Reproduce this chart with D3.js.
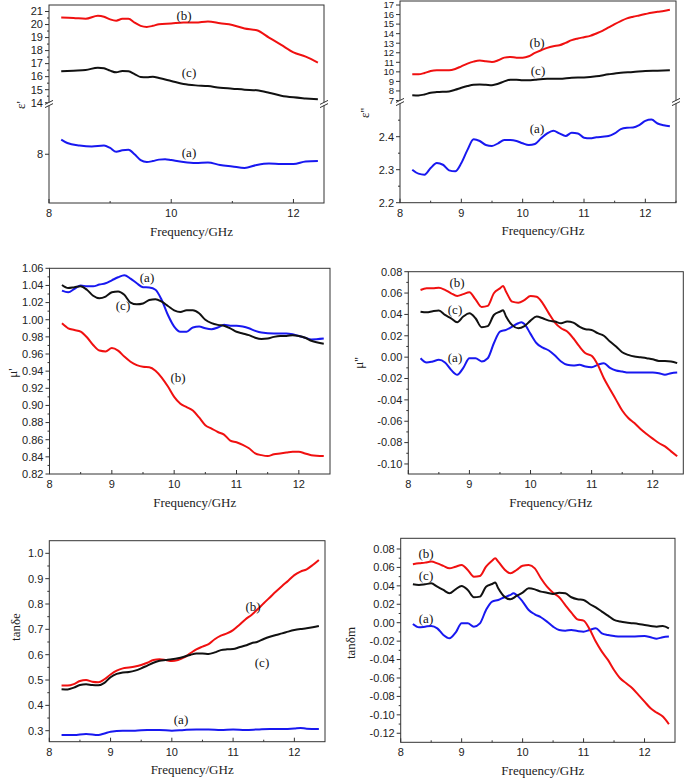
<!DOCTYPE html>
<html lang="en">
<head>
<meta charset="UTF-8">
<title>Permittivity, permeability and loss tangents vs frequency</title>
<script src="https://d3js.org/d3.v7.min.js"></script>
<style>
  body { margin: 0; background: #fff; }
  svg { display: block; }
  .tick-label { font-family: "Liberation Sans", Arial, sans-serif; font-size: 11px; fill: #222; }
  .axis-title { font-family: "Liberation Serif", "Times New Roman", serif; font-size: 13px; fill: #222; }
  .note { font-family: "Liberation Serif", "Times New Roman", serif; font-size: 13px; fill: #111; }
</style>
</head>
<body>
<svg id="chart" width="685" height="779"></svg>
<script>
// ---- data: [frequency GHz, value] ----
const epsReal_a = [[8.2,8.30],[8.3,8.23],[8.5,8.18],[8.7,8.16],[8.9,8.18],[9.0,8.13],[9.1,8.05],[9.2,8.08],[9.3,8.09],[9.4,8.0],[9.5,7.88],[9.6,7.84],[9.7,7.86],[9.8,7.89],[9.9,7.90],[10.0,7.88],[10.2,7.84],[10.4,7.82],[10.6,7.83],[10.8,7.78],[11.0,7.75],[11.2,7.72],[11.4,7.78],[11.6,7.81],[11.8,7.80],[12.0,7.80],[12.2,7.85],[12.4,7.86]];
const epsReal_b = [[8.2,20.54],[8.4,20.51],[8.6,20.44],[8.8,20.67],[8.9,20.6],[9.0,20.4],[9.1,20.3],[9.2,20.44],[9.3,20.44],[9.4,20.15],[9.5,19.9],[9.6,19.82],[9.7,19.9],[9.8,20.03],[10.0,20.08],[10.2,20.15],[10.4,20.15],[10.6,20.23],[10.8,20.1],[11.0,19.97],[11.2,19.7],[11.4,19.56],[11.6,19.0],[11.8,18.44],[12.0,17.87],[12.2,17.54],[12.4,17.08]];
const epsReal_c = [[8.2,16.41],[8.4,16.46],[8.6,16.51],[8.8,16.69],[8.9,16.64],[9.0,16.46],[9.1,16.33],[9.2,16.44],[9.3,16.41],[9.4,16.2],[9.5,15.97],[9.6,15.95],[9.7,16.0],[9.8,15.9],[10.0,15.67],[10.2,15.44],[10.4,15.33],[10.6,15.28],[10.8,15.15],[11.0,15.08],[11.2,15.0],[11.4,14.95],[11.6,14.77],[11.8,14.54],[12.0,14.41],[12.2,14.33],[12.4,14.26]];

const epsImag_a = [[8.2,2.30],[8.3,2.288],[8.4,2.285],[8.5,2.305],[8.6,2.32],[8.7,2.315],[8.8,2.298],[8.9,2.295],[9.0,2.32],[9.1,2.36],[9.2,2.392],[9.3,2.387],[9.4,2.375],[9.5,2.372],[9.6,2.38],[9.7,2.39],[9.8,2.39],[9.9,2.387],[10.0,2.38],[10.1,2.375],[10.2,2.378],[10.3,2.395],[10.4,2.41],[10.5,2.418],[10.6,2.41],[10.7,2.402],[10.8,2.412],[10.9,2.41],[11.0,2.397],[11.1,2.395],[11.2,2.398],[11.3,2.40],[11.4,2.402],[11.5,2.41],[11.6,2.423],[11.7,2.427],[11.8,2.428],[11.9,2.435],[12.0,2.448],[12.1,2.452],[12.2,2.44],[12.3,2.435],[12.4,2.432]];
const epsImag_b = [[8.2,9.74],[8.3,9.74],[8.4,9.88],[8.5,10.09],[8.6,10.16],[8.8,10.16],[8.9,10.3],[9.0,10.58],[9.1,10.86],[9.2,11.07],[9.3,11.18],[9.4,11.11],[9.5,11.04],[9.6,11.21],[9.7,11.49],[9.8,11.56],[9.9,11.49],[10.0,11.49],[10.1,11.63],[10.2,11.98],[10.3,12.26],[10.4,12.51],[10.5,12.68],[10.6,12.79],[10.7,13.04],[10.8,13.32],[10.9,13.49],[11.0,13.63],[11.1,13.77],[11.2,14.02],[11.3,14.3],[11.4,14.65],[11.5,15.0],[11.6,15.32],[11.7,15.6],[11.8,15.77],[11.9,15.91],[12.0,16.05],[12.1,16.19],[12.2,16.3],[12.3,16.37],[12.4,16.51]];
const epsImag_c = [[8.2,7.56],[8.3,7.53],[8.4,7.63],[8.5,7.81],[8.6,7.88],[8.8,7.95],[8.9,8.12],[9.0,8.33],[9.1,8.51],[9.2,8.65],[9.3,8.68],[9.4,8.65],[9.5,8.61],[9.6,8.75],[9.7,9.0],[9.8,9.18],[9.9,9.18],[10.0,9.11],[10.1,9.11],[10.2,9.18],[10.4,9.28],[10.6,9.28],[10.8,9.39],[11.0,9.42],[11.2,9.53],[11.4,9.74],[11.6,9.91],[11.8,9.98],[12.0,10.09],[12.2,10.12],[12.4,10.16]];

const muReal_a = [[8.2,1.034],[8.3,1.032],[8.4,1.036],[8.5,1.040],[8.6,1.039],[8.7,1.039],[8.8,1.041],[8.9,1.0425],[9.0,1.046],[9.1,1.0495],[9.2,1.052],[9.3,1.048],[9.4,1.0425],[9.5,1.038],[9.6,1.0375],[9.7,1.035],[9.8,1.023],[9.9,1.0055],[10.0,0.992],[10.1,0.986],[10.2,0.986],[10.3,0.991],[10.4,0.992],[10.5,0.990],[10.6,0.989],[10.7,0.991],[10.8,0.994],[10.9,0.993],[11.0,0.993],[11.1,0.992],[11.2,0.990],[11.3,0.987],[11.4,0.985],[11.6,0.984],[11.8,0.984],[11.9,0.983],[12.0,0.981],[12.1,0.979],[12.2,0.977],[12.4,0.978]];
const muReal_b = [[8.2,0.9958],[8.3,0.990],[8.4,0.988],[8.5,0.986],[8.6,0.9795],[8.7,0.9705],[8.8,0.964],[8.9,0.963],[9.0,0.967],[9.1,0.964],[9.2,0.957],[9.3,0.951],[9.4,0.947],[9.5,0.945],[9.6,0.9445],[9.7,0.9405],[9.8,0.9325],[9.9,0.922],[10.0,0.910],[10.1,0.902],[10.2,0.898],[10.3,0.894],[10.4,0.886],[10.5,0.877],[10.6,0.873],[10.7,0.869],[10.8,0.866],[10.9,0.859],[11.0,0.857],[11.1,0.854],[11.2,0.850],[11.3,0.844],[11.4,0.842],[11.5,0.841],[11.6,0.843],[11.7,0.844],[11.8,0.845],[11.9,0.846],[12.0,0.846],[12.1,0.844],[12.2,0.842],[12.4,0.841]];
const muReal_c = [[8.2,1.0405],[8.3,1.037],[8.4,1.038],[8.5,1.039],[8.6,1.035],[8.7,1.028],[8.8,1.025],[8.9,1.027],[9.0,1.032],[9.1,1.033],[9.2,1.029],[9.3,1.020],[9.4,1.018],[9.5,1.019],[9.6,1.023],[9.7,1.024],[9.8,1.021],[9.9,1.016],[10.0,1.011],[10.1,1.009],[10.2,1.011],[10.3,1.011],[10.4,1.0075],[10.5,1.0],[10.6,0.996],[10.7,0.994],[10.8,0.993],[10.9,0.990],[11.0,0.986],[11.1,0.984],[11.2,0.982],[11.3,0.979],[11.4,0.9775],[11.5,0.978],[11.6,0.980],[11.7,0.981],[11.8,0.981],[11.9,0.982],[12.0,0.981],[12.1,0.979],[12.2,0.9755],[12.4,0.972]];

const muImag_a = [[8.2,-0.001],[8.3,-0.005],[8.4,-0.004],[8.5,-0.0025],[8.6,-0.005],[8.7,-0.0119],[8.8,-0.0165],[8.9,-0.010],[9.0,-0.001],[9.1,-0.001],[9.2,-0.004],[9.3,-0.001],[9.4,0.013],[9.5,0.024],[9.6,0.0255],[9.7,0.0286],[9.8,0.0317],[9.85,0.0327],[9.9,0.031],[10.0,0.0218],[10.1,0.013],[10.2,0.009],[10.3,0.0062],[10.4,0.0015],[10.5,-0.004],[10.6,-0.0072],[10.7,-0.0078],[10.8,-0.0072],[10.9,-0.0088],[11.0,-0.0094],[11.1,-0.0072],[11.2,-0.0056],[11.3,-0.010],[11.4,-0.0125],[11.5,-0.0134],[11.6,-0.0144],[11.8,-0.0144],[12.0,-0.0144],[12.1,-0.015],[12.2,-0.0165],[12.3,-0.015],[12.4,-0.0144]];
const muImag_b = [[8.2,0.0629],[8.3,0.0644],[8.4,0.0644],[8.5,0.065],[8.6,0.063],[8.7,0.0598],[8.8,0.0573],[8.9,0.059],[9.0,0.0607],[9.1,0.054],[9.2,0.047],[9.3,0.048],[9.4,0.0598],[9.5,0.0644],[9.55,0.0666],[9.6,0.0613],[9.7,0.052],[9.8,0.051],[9.9,0.0535],[10.0,0.0573],[10.1,0.0566],[10.2,0.0504],[10.3,0.041],[10.4,0.0324],[10.5,0.027],[10.6,0.024],[10.7,0.0177],[10.8,0.010],[10.9,0.0037],[11.0,0.0012],[11.1,-0.0072],[11.2,-0.0197],[11.3,-0.030],[11.4,-0.040],[11.5,-0.050],[11.6,-0.057],[11.7,-0.0617],[11.8,-0.0673],[11.9,-0.072],[12.0,-0.0763],[12.1,-0.0804],[12.2,-0.0835],[12.3,-0.0882],[12.4,-0.0928]];
const muImag_c = [[8.2,0.0426],[8.3,0.042],[8.4,0.043],[8.5,0.0436],[8.6,0.0395],[8.7,0.0364],[8.8,0.0327],[8.9,0.038],[9.0,0.041],[9.1,0.0364],[9.2,0.028],[9.3,0.029],[9.4,0.0395],[9.5,0.0426],[9.55,0.044],[9.6,0.038],[9.7,0.030],[9.8,0.027],[9.9,0.029],[10.0,0.0342],[10.1,0.038],[10.2,0.0364],[10.3,0.0342],[10.4,0.0333],[10.5,0.0317],[10.6,0.0333],[10.7,0.0323],[10.8,0.0286],[10.9,0.0261],[11.0,0.0255],[11.1,0.0224],[11.2,0.020],[11.3,0.0146],[11.4,0.010],[11.5,0.0046],[11.6,0.0021],[11.7,0.0006],[11.8,0.0],[11.9,-0.001],[12.0,-0.002],[12.1,-0.0035],[12.2,-0.0035],[12.3,-0.004],[12.4,-0.0056]];

const tanE_a = [[8.2,0.283],[8.4,0.283],[8.6,0.287],[8.8,0.283],[8.9,0.289],[9.0,0.296],[9.2,0.300],[9.4,0.300],[9.6,0.303],[9.8,0.303],[10.0,0.300],[10.2,0.303],[10.4,0.305],[10.6,0.305],[10.8,0.303],[11.0,0.305],[11.2,0.303],[11.4,0.305],[11.6,0.307],[11.8,0.307],[12.0,0.309],[12.1,0.311],[12.2,0.308],[12.4,0.307]];
const tanE_b = [[8.2,0.478],[8.3,0.478],[8.4,0.484],[8.5,0.496],[8.6,0.500],[8.7,0.493],[8.8,0.491],[8.9,0.503],[9.0,0.522],[9.1,0.537],[9.2,0.546],[9.3,0.549],[9.4,0.553],[9.5,0.559],[9.6,0.568],[9.7,0.579],[9.8,0.582],[9.9,0.579],[10.0,0.575],[10.1,0.579],[10.2,0.589],[10.3,0.605],[10.4,0.621],[10.5,0.632],[10.6,0.642],[10.7,0.661],[10.8,0.675],[10.9,0.684],[11.0,0.697],[11.1,0.717],[11.2,0.739],[11.3,0.757],[11.4,0.779],[11.5,0.803],[11.6,0.826],[11.7,0.849],[11.8,0.871],[11.9,0.892],[12.0,0.914],[12.1,0.928],[12.2,0.937],[12.3,0.954],[12.4,0.974]];
const tanE_c = [[8.2,0.464],[8.3,0.463],[8.4,0.470],[8.5,0.480],[8.6,0.483],[8.7,0.480],[8.8,0.479],[8.9,0.489],[9.0,0.511],[9.1,0.524],[9.2,0.530],[9.3,0.532],[9.4,0.537],[9.5,0.546],[9.6,0.557],[9.7,0.568],[9.8,0.576],[9.9,0.579],[10.0,0.582],[10.1,0.586],[10.2,0.592],[10.3,0.599],[10.4,0.605],[10.5,0.605],[10.6,0.603],[10.7,0.609],[10.8,0.618],[10.9,0.621],[11.0,0.622],[11.1,0.629],[11.2,0.636],[11.3,0.645],[11.4,0.651],[11.5,0.662],[11.6,0.671],[11.7,0.678],[11.8,0.684],[11.9,0.691],[12.0,0.697],[12.1,0.701],[12.2,0.704],[12.3,0.708],[12.4,0.713]];

const tanM_a = [[8.2,-0.0014],[8.3,-0.005],[8.4,-0.0043],[8.5,-0.0035],[8.6,-0.0061],[8.7,-0.0133],[8.8,-0.0169],[8.9,-0.0108],[9.0,-0.0007],[9.1,-0.0007],[9.2,-0.0043],[9.3,-0.0007],[9.4,0.0138],[9.5,0.0229],[9.6,0.0247],[9.7,0.0276],[9.8,0.0301],[9.85,0.0319],[9.9,0.0301],[10.0,0.0229],[10.1,0.0138],[10.2,0.0091],[10.3,0.0059],[10.4,0.0012],[10.5,-0.0043],[10.6,-0.0079],[10.7,-0.0086],[10.8,-0.0079],[10.9,-0.009],[11.0,-0.0097],[11.1,-0.0079],[11.2,-0.0061],[11.3,-0.0115],[11.4,-0.0133],[11.5,-0.0144],[11.6,-0.0151],[11.8,-0.0151],[12.0,-0.0144],[12.1,-0.0158],[12.2,-0.0173],[12.3,-0.0158],[12.4,-0.0151]];
const tanM_b = [[8.2,0.0634],[8.3,0.0644],[8.4,0.0652],[8.5,0.0663],[8.6,0.0644],[8.7,0.0616],[8.8,0.059],[8.9,0.0608],[9.0,0.0626],[9.1,0.0572],[9.2,0.050],[9.3,0.0507],[9.4,0.0608],[9.5,0.0673],[9.55,0.0699],[9.6,0.0663],[9.7,0.058],[9.8,0.0536],[9.9,0.0572],[10.0,0.0619],[10.1,0.0626],[10.2,0.059],[10.3,0.0482],[10.4,0.0391],[10.5,0.0326],[10.6,0.0276],[10.7,0.0192],[10.8,0.0109],[10.9,0.0037],[11.0,0.0022],[11.1,-0.0072],[11.2,-0.0205],[11.3,-0.0314],[11.4,-0.0404],[11.5,-0.0513],[11.6,-0.0603],[11.7,-0.0658],[11.8,-0.0712],[11.9,-0.0784],[12.0,-0.0856],[12.1,-0.0929],[12.2,-0.0976],[12.3,-0.1019],[12.4,-0.1102]];
const tanM_c = [[8.2,0.0417],[8.3,0.041],[8.4,0.0417],[8.5,0.0427],[8.6,0.0391],[8.7,0.0355],[8.8,0.0319],[8.9,0.0362],[9.0,0.0399],[9.1,0.0355],[9.2,0.0276],[9.3,0.0283],[9.4,0.0391],[9.5,0.042],[9.55,0.0435],[9.6,0.0373],[9.7,0.0283],[9.8,0.0254],[9.9,0.029],[10.0,0.0326],[10.1,0.0373],[10.2,0.0362],[10.3,0.0337],[10.4,0.0326],[10.5,0.0312],[10.6,0.0326],[10.7,0.0319],[10.8,0.0276],[10.9,0.0254],[11.0,0.0247],[11.1,0.0203],[11.2,0.0167],[11.3,0.012],[11.4,0.0077],[11.5,0.003],[11.6,0.0012],[11.7,0.0001],[11.8,-0.0006],[11.9,-0.0014],[12.0,-0.0025],[12.1,-0.0035],[12.2,-0.0043],[12.3,-0.0035],[12.4,-0.0061]];

const sampleLabels = ["(a)", "(b)", "(c)"];
const RED = "#f01010", BLUE = "#1818f0", BLACK = "#111";

const svg = d3.select("#chart");
const fmt = (d) => (n) => n.toFixed(d);

// each panel: frame box, x scale, one or two y segments (broken axis)
const panels = [
  { box: [49, 324, 5, 203], yLabel: "ε'", yLabelAt: [20, 105],
    xTicks: [8, 10, 12], xMinor: [9, 11],
    segs: [
      { domain: [14, 21.5], range: [102.7, 5], ticks: d3.range(14, 22), minor: d3.range(14.5, 21.5, 1), f: fmt(0) },
      { domain: [7, 9], range: [203, 105.5], ticks: [8], minor: [], f: fmt(0) }
    ], breakY: 104,
    series: [[epsReal_a, BLUE, 1], [epsReal_b, RED, 0], [epsReal_c, BLACK, 0]],
    notes: [[189, 152], [184, 15], [189, 72]] },
  { box: [400, 676, 1, 202.7], yLabel: "ε''", yLabelAt: [364, 113],
    xTicks: [8, 9, 10, 11, 12], xMinor: [8.5, 9.5, 10.5, 11.5, 12.5],
    segs: [
      { domain: [7, 17.4], range: [100.5, 1.2], ticks: d3.range(7, 18), minor: [], f: fmt(0), size: 9.5 },
      { domain: [2.2, 2.5], range: [202.7, 103.7], ticks: [2.2, 2.3, 2.4], minor: [2.25, 2.35, 2.45], f: fmt(1) }
    ], breakY: 102,
    series: [[epsImag_a, BLUE, 1], [epsImag_b, RED, 0], [epsImag_c, BLACK, 0]],
    notes: [[537, 128], [537, 42], [538, 70]] },
  { box: [49.5, 330, 268.3, 474], yLabel: "μ'", yLabelAt: [12, 373],
    xTicks: [8, 9, 10, 11, 12], xMinor: [8.5, 9.5, 10.5, 11.5],
    segs: [{ domain: [0.82, 1.06], range: [474, 268.3], ticks: d3.range(0.82, 1.0601, 0.02), minor: d3.range(0.83, 1.06, 0.02), f: fmt(2) }],
    series: [[muReal_a, BLUE, 0], [muReal_b, RED, 0], [muReal_c, BLACK, 0]],
    notes: [[147, 277], [178, 377], [123, 305]] },
  { box: [408.3, 683.3, 271.7, 474], yLabel: "μ''", yLabelAt: [358, 363],
    xTicks: [8, 9, 10, 11, 12], xMinor: [8.5, 9.5, 10.5, 11.5],
    segs: [{ domain: [-0.1094, 0.08], range: [474, 271.7], ticks: d3.range(-0.10, 0.0801, 0.02), minor: d3.range(-0.09, 0.08, 0.02), f: fmt(2) }],
    series: [[muImag_a, BLUE, 0], [muImag_b, RED, 0], [muImag_c, BLACK, 0]],
    notes: [[455, 357], [457, 282], [455, 309]] },
  { box: [49.3, 325, 540.7, 741.7], yLabel: "tanδe", yLabelAt: [15, 627],
    xTicks: [8, 9, 10, 11, 12], xMinor: [8.5, 9.5, 10.5, 11.5],
    segs: [{ domain: [0.2566, 1.0498], range: [741.7, 540.7], ticks: d3.range(0.3, 1.0001, 0.1), minor: d3.range(0.35, 1.0, 0.1), f: fmt(1) }],
    series: [[tanE_a, BLUE, 0], [tanE_b, RED, 0], [tanE_c, BLACK, 0]],
    notes: [[181, 719], [253, 606], [262, 662]] },
  { box: [400.7, 675, 538.3, 742.3], yLabel: "tanδm", yLabelAt: [350, 643],
    xTicks: [8, 9, 10, 11, 12], xMinor: [8.5, 9.5, 10.5, 11.5],
    segs: [{ domain: [-0.1298, 0.0916], range: [742.3, 538.3], ticks: d3.range(-0.12, 0.0801, 0.02), minor: d3.range(-0.11, 0.09, 0.02), f: fmt(2) }],
    series: [[tanM_a, BLUE, 0], [tanM_b, RED, 0], [tanM_c, BLACK, 0]],
    notes: [[426, 618], [426, 553], [426, 575]] }
];

panels.forEach(p => {
  const [x0, x1, y0, y1] = p.box;
  const x = d3.scaleLinear().domain([8, 12.5]).range([x0, x1]);
  const ys = p.segs.map(s => d3.scaleLinear().domain(s.domain).range(s.range));
  const g = svg.append("g");

  // data lines
  p.series.forEach(([data, color, seg]) => {
    const line = d3.line().x(d => x(d[0])).y(d => ys[seg](d[1])).curve(d3.curveMonotoneX);
    g.append("path").datum(data)
      .attr("fill", "none").attr("stroke", color).attr("stroke-width", 2)
      .attr("stroke-linejoin", "round").attr("d", line);
  });

  // frame
  g.append("rect").attr("x", x0).attr("y", y0).attr("width", x1 - x0).attr("height", y1 - y0)
    .attr("fill", "none").attr("stroke", "#333").attr("stroke-width", 1);

  // x ticks (inside) and labels
  p.xTicks.forEach(t => {
    g.append("line").attr("x1", x(t)).attr("x2", x(t)).attr("y1", y1).attr("y2", y1 - 4).attr("stroke", "#333");
    g.append("text").attr("class", "tick-label").attr("x", x(t)).attr("y", y1 + 14)
      .attr("text-anchor", "middle").text(t);
  });
  p.xMinor.forEach(t => {
    g.append("line").attr("x1", x(t)).attr("x2", x(t)).attr("y1", y1).attr("y2", y1 - 2).attr("stroke", "#333");
  });

  // y ticks (outside) and labels
  p.segs.forEach((s, i) => {
    s.ticks.forEach(t => {
      const yy = ys[i](t);
      g.append("line").attr("x1", x0).attr("x2", x0 - 4).attr("y1", yy).attr("y2", yy).attr("stroke", "#333");
      g.append("text").attr("class", "tick-label").attr("x", x0 - 6).attr("y", yy)
        .attr("dy", "0.35em").attr("text-anchor", "end")
        .style("font-size", s.size ? s.size + "px" : null).text(s.f(t));
    });
    s.minor.forEach(t => {
      const yy = ys[i](t);
      g.append("line").attr("x1", x0).attr("x2", x0 - 2).attr("y1", yy).attr("y2", yy).attr("stroke", "#333");
    });
  });

  // axis break marks on both sides
  if (p.breakY) {
    [x0, x1].forEach(bx => {
      g.append("rect").attr("x", bx - 1.5).attr("y", p.breakY - 1.5).attr("width", 3).attr("height", 3).attr("fill", "#fff");
      [-1.6, 1.6].forEach(o => {
        g.append("line").attr("x1", bx - 4).attr("x2", bx + 4)
          .attr("y1", p.breakY + o + 2).attr("y2", p.breakY + o - 2)
          .attr("stroke", "#333").attr("stroke-width", 1);
      });
    });
  }

  // titles
  g.append("text").attr("class", "axis-title").attr("x", (x0 + x1) / 2 + 5).attr("y", y1 + 28)
    .attr("dy", "0.35em").attr("text-anchor", "middle").text("Frequency/GHz");
  g.append("text").attr("class", "axis-title")
    .attr("transform", `translate(${p.yLabelAt[0]},${p.yLabelAt[1]}) rotate(-90)`)
    .attr("dy", "0.35em").attr("text-anchor", "middle").text(p.yLabel);

  // curve annotations
  p.notes.forEach((pos, i) => {
    g.append("text").attr("class", "note").attr("x", pos[0]).attr("y", pos[1])
      .attr("dy", "0.35em").attr("text-anchor", "middle").text(sampleLabels[i]);
  });
});
</script>
</body>
</html>
